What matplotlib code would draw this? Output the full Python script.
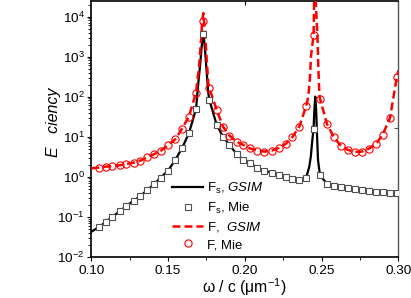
import matplotlib
matplotlib.use('Agg')
import matplotlib.pyplot as plt
from matplotlib.ticker import LogLocator, FixedLocator, NullFormatter, FixedFormatter
from matplotlib.lines import Line2D

plt.rcParams['font.family'] = ['Liberation Sans', 'DejaVu Sans']
plt.rcParams['mathtext.fontset'] = 'custom'
plt.rcParams['mathtext.rm'] = 'Liberation Sans'
plt.rcParams['mathtext.it'] = 'Liberation Sans:italic'
plt.rcParams['mathtext.bf'] = 'Liberation Sans:bold'

# ---------------- data ----------------
mie_w = [0.1050, 0.1094, 0.1137, 0.1185, 0.1228, 0.1276, 0.1319, 0.1365, 0.1408, 0.1452,
         0.1500, 0.1547, 0.1591, 0.1636, 0.1682, 0.1728, 0.1769, 0.1817, 0.1858, 0.1900,
         0.1947, 0.1990, 0.2034, 0.2081, 0.2127, 0.2175, 0.2223, 0.2266, 0.2309, 0.2355,
         0.2399, 0.2448, 0.2490, 0.2536, 0.2581, 0.2627, 0.2672, 0.2718, 0.2762, 0.2809,
         0.2855, 0.2898, 0.2946, 0.2990]
mie_fs = [0.0552, 0.0736, 0.100, 0.136, 0.185, 0.251, 0.329, 0.464, 0.646, 0.944,
          1.41, 2.62, 5.13, 12.2, 48.4, 3696, 82.7, 19.6, 10.0, 6.2,
          3.69, 2.62, 2.16, 1.68, 1.41, 1.26, 1.10, 1.0, 0.89, 0.84,
          0.91, 15.3, 1.07, 0.66, 0.58, 0.54, 0.51, 0.48, 0.46, 0.44,
          0.42, 0.41, 0.40, 0.385]
mie_f = [1.68, 1.78, 1.82, 1.93, 2.08, 2.24, 2.51, 3.05, 3.63, 4.39,
         6.2, 8.6, 15.8, 31.6, 126, 7943, 162, 46.5, 17.8, 10.6,
         7.5, 6.2, 5.07, 4.47, 4.22, 4.47, 5.22, 6.57, 9.66, 17.8,
         56.9, 3490, 87.6, 20.4, 9.55, 5.86, 4.65, 4.15, 4.22, 5.01,
         6.57, 11.2, 29.4, 305]

gsim_w_fs = [0.1000, 0.1050, 0.1094, 0.1137, 0.1185, 0.1228, 0.1276, 0.1319, 0.1365, 0.1408,
             0.1452, 0.1500, 0.1547, 0.1591, 0.1636, 0.1682, 0.1697, 0.1708, 0.1719, 0.1730,
             0.1741, 0.1752, 0.1762, 0.1769, 0.1817, 0.1858, 0.1900, 0.1947, 0.1990, 0.2034,
             0.2081, 0.2127, 0.2175, 0.2223, 0.2266, 0.2309, 0.2355, 0.2399, 0.2420, 0.2430,
             0.2440, 0.2448, 0.2453, 0.2459, 0.2465, 0.2470, 0.2477, 0.2490, 0.2536, 0.2581,
             0.2627, 0.2672, 0.2718, 0.2762, 0.2809, 0.2855, 0.2898, 0.2946, 0.2990, 0.3000]
gsim_fs = [0.042, 0.0552, 0.0736, 0.100, 0.136, 0.185, 0.251, 0.329, 0.464, 0.646,
           0.944, 1.41, 2.62, 5.13, 12.2, 48.4, 216, 562, 1780, 4170,
           1470, 390, 124, 82.7, 19.6, 10.0, 6.2, 3.69, 2.62, 2.16,
           1.68, 1.41, 1.26, 1.10, 1.0, 0.89, 0.84, 0.91, 1.78, 3.16,
           8.3, 15.3, 46, 100, 46, 12.3, 2.6, 1.07, 0.66, 0.58,
           0.54, 0.51, 0.48, 0.46, 0.44, 0.42, 0.41, 0.40, 0.385, 0.38]

gsim_w_f = [0.1000, 0.1050, 0.1094, 0.1137, 0.1185, 0.1228, 0.1276, 0.1319, 0.1365, 0.1408,
            0.1452, 0.1500, 0.1547, 0.1591, 0.1636, 0.1682, 0.1702, 0.1715, 0.1723, 0.1730,
            0.1741, 0.1752, 0.1762, 0.1769, 0.1817, 0.1858, 0.1900, 0.1947, 0.1990, 0.2034,
            0.2081, 0.2127, 0.2175, 0.2223, 0.2266, 0.2309, 0.2355, 0.2399, 0.2414, 0.2425,
            0.2431, 0.2448, 0.2452, 0.2457, 0.2462, 0.2468, 0.2475, 0.2479, 0.2486, 0.2490,
            0.2536, 0.2581, 0.2627, 0.2672, 0.2718, 0.2762, 0.2809, 0.2855, 0.2898, 0.2946,
            0.2990, 0.3000]
gsim_f = [1.62, 1.68, 1.78, 1.82, 1.93, 2.08, 2.24, 2.51, 3.05, 3.63,
          4.39, 6.2, 8.6, 15.8, 31.6, 126, 562, 2620, 8300, 12200,
          3900, 830, 220, 162, 46.5, 17.8, 10.6, 7.5, 6.2, 5.07,
          4.47, 4.22, 4.47, 5.22, 6.57, 9.66, 17.8, 56.9, 100, 316,
          1000, 3490, 25000, 100000, 25000, 8300, 2200, 550, 110, 87.6,
          20.4, 9.55, 5.86, 4.65, 4.15, 4.22, 5.01, 6.57, 11.2, 29.4,
          305, 450]

xticks = [0.10, 0.15, 0.20, 0.25, 0.30]
xtick_labels = ['0.10', '0.15', '0.20', '0.25', '0.30']
xminor = [0.125, 0.175, 0.225, 0.275]

labels = ['F$_{\\rm s}$, $\\it{GSIM}$', 'F$_{\\rm s}$, Mie', 'F,  $\\it{GSIM}$', 'F, Mie']

# ---------------- figure ----------------
W, H = 411, 298
fig = plt.figure(figsize=(W / 100, H / 100), dpi=100)
ax = fig.add_axes([91.3 / W, 1 - 256.7 / H, 307 / W, 255.7 / H])

ax.plot(gsim_w_fs, gsim_fs, color='black', lw=1.6, zorder=2)
ax.plot(gsim_w_f, gsim_f, color='#ff0000', lw=1.8, linestyle=(0, (3.2, 1.6)), zorder=3)
ax.plot(mie_w, mie_fs, linestyle='none', marker='s', ms=4.4, mfc='white', mec='#505050',
        mew=0.8, zorder=4)
ax.plot(mie_w, mie_f, linestyle='none', marker='o', ms=5.2, mfc='none', mec='#ff0000',
        mew=0.8, zorder=5)

ax.set_yscale('log')
ax.set_xlim(0.10, 0.30)
ax.set_ylim(0.01, 2.45e4)

ax.xaxis.set_major_locator(FixedLocator(xticks))
ax.xaxis.set_major_formatter(FixedFormatter(xtick_labels))
ax.xaxis.set_minor_locator(FixedLocator(xminor))
ax.yaxis.set_major_locator(LogLocator(base=10, numticks=20))
ax.yaxis.set_minor_locator(LogLocator(base=10, subs=[2, 3, 4, 5, 6, 7, 8, 9], numticks=20))
ax.yaxis.set_minor_formatter(NullFormatter())
ax.xaxis.offsetText.set_visible(False)
ax.yaxis.offsetText.set_visible(False)

ax.tick_params(axis='both', which='major', direction='out', length=3.2, width=0.8,
               labelsize=9.7, pad=1.5, top=False, right=False)
ax.tick_params(axis='both', which='minor', direction='out', length=1.9, width=0.6,
               top=False, right=False)
ax.tick_params(axis='x', which='major', pad=2.5)

for side in ['left', 'bottom', 'top']:
    ax.spines[side].set_linewidth(1.2)
    ax.spines[side].set_color('black')
ax.spines['right'].set_linewidth(1.0)
ax.spines['right'].set_color('#555555')

# lone mirrored ticks seen on top and right frame
ax.plot([0.20], [1], transform=ax.get_xaxis_transform(), marker=3, ms=3, mew=0.8,
        color='black', clip_on=False, linestyle='none')
ax.plot([1], [16], transform=ax.get_yaxis_transform(), marker=0, ms=3, mew=0.8,
        color='#555555', clip_on=False, linestyle='none')

# axis labels
fig.text(244.8 / W, 1 - 287.5 / H, '\u03c9 / c (\u03bcm$^{-1}$)', ha='center', va='center',
         fontsize=11.3)
fig.text(53 / W, 1 - 122.5 / H, 'E   ciency', ha='center', va='center', rotation=90,
         fontsize=11.5, style='italic')

handles = [Line2D([], [], color='black', lw=1.6),
           Line2D([], [], linestyle='none', marker='s', ms=4.4, mfc='white', mec='#505050', mew=0.8),
           Line2D([], [], color='#ff0000', lw=1.8, linestyle=(0, (3.2, 1.6))),
           Line2D([], [], linestyle='none', marker='o', ms=5.2, mfc='none', mec='#ff0000', mew=0.8)]
fig.legend(handles, labels, loc='center left', bbox_to_anchor=(172 / W, 1 - 215.9 / H),
           frameon=False, fontsize=9.5, handlelength=2.35, handletextpad=0.3,
           labelspacing=0.35, borderpad=0, borderaxespad=0)

fig.savefig('out.png', dpi=100)
